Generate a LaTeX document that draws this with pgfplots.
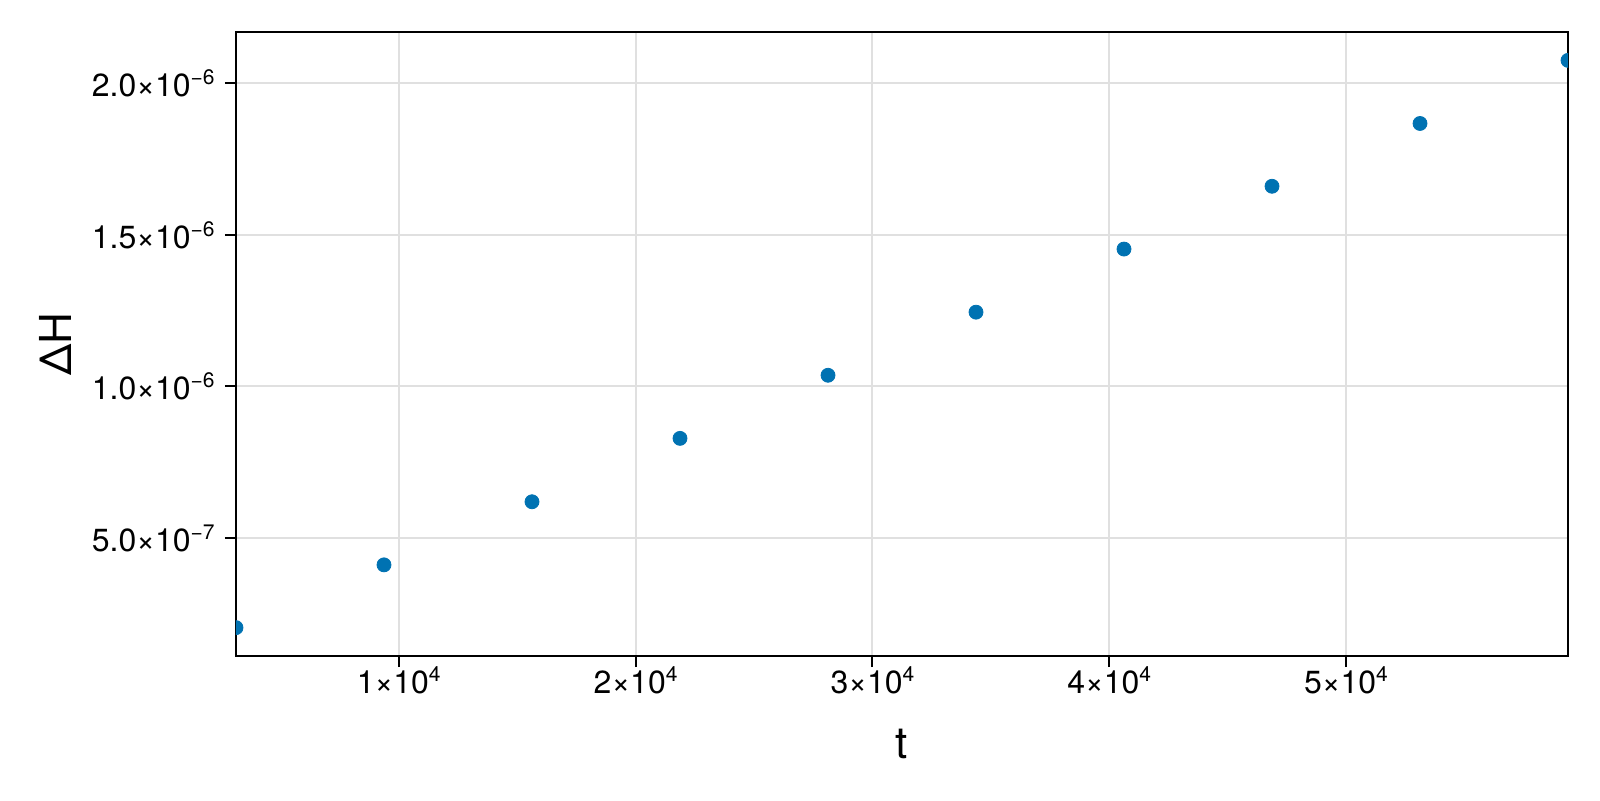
\documentclass[border=0pt]{standalone}
\usepackage{fontspec}
\setmainfont{TeX Gyre Heros}
\usepackage{pgfplots}
\pgfplotsset{compat=1.18}
\definecolor{dotblue}{RGB}{0,114,178}
% Makie-style tick label: mantissa × 10^exponent
\newcommand{\sci}[2]{#1×10\raisebox{6pt}{\fontsize{10.5}{11}\selectfont #2}}
\begin{document}
\begin{tikzpicture}
\path[use as bounding box] (-118pt,-72pt) rectangle (682pt,328pt);
\begin{axis}[
  at={(0,0)}, anchor=south west,
  scale only axis, width=666pt, height=312pt,
  xmin=3125, xmax=59375,
  ymin=1.115e-7, ymax=2.1685e-6,
  xtick={10000,20000,30000,40000,50000},
  xticklabels={\sci{1}{4},\sci{2}{4},\sci{3}{4},\sci{4}{4},\sci{5}{4}},
  ytick={5e-7,1e-6,1.5e-6,2e-6},
  yticklabels={\sci{5.0}{−7},\sci{1.0}{−6},\sci{1.5}{−6},\sci{2.0}{−6}},
  scaled ticks=false,
  xtick pos=left, ytick pos=left,
  tick align=outside, major tick length=5.5pt,
  tick style={black, line width=1pt},
  axis line style={black, line width=1pt},
  grid=major,
  major grid style={color=black!12, line width=1pt},
  every x tick label/.style={font=\fontsize{16}{19}\selectfont, anchor=base, inner sep=0pt, yshift=-13pt},
  every y tick label/.style={font=\fontsize{16}{19}\selectfont, anchor=east, inner sep=0pt, xshift=-5pt},
  xlabel={t}, ylabel={ΔH},
  every axis x label/.style={at={(axis description cs:0.5,-0.165)}, anchor=base, font=\fontsize{22}{26}\selectfont},
  every axis y label/.style={at={(axis description cs:-0.1359,0.5)}, anchor=center, rotate=90, font=\fontsize{22}{26}\selectfont},
  clip marker paths=true,
]
\addplot[only marks, mark=*, mark size=3.5pt, color=dotblue, mark options={draw=none, fill=dotblue}] coordinates {
  (3125,2.05e-7) (9375,4.12e-7) (15625,6.20e-7) (21875,8.29e-7)
  (28125,1.037e-6) (34375,1.245e-6) (40625,1.453e-6) (46875,1.660e-6)
  (53125,1.867e-6) (59375,2.075e-6)
};
\end{axis}
\end{tikzpicture}
\end{document}
